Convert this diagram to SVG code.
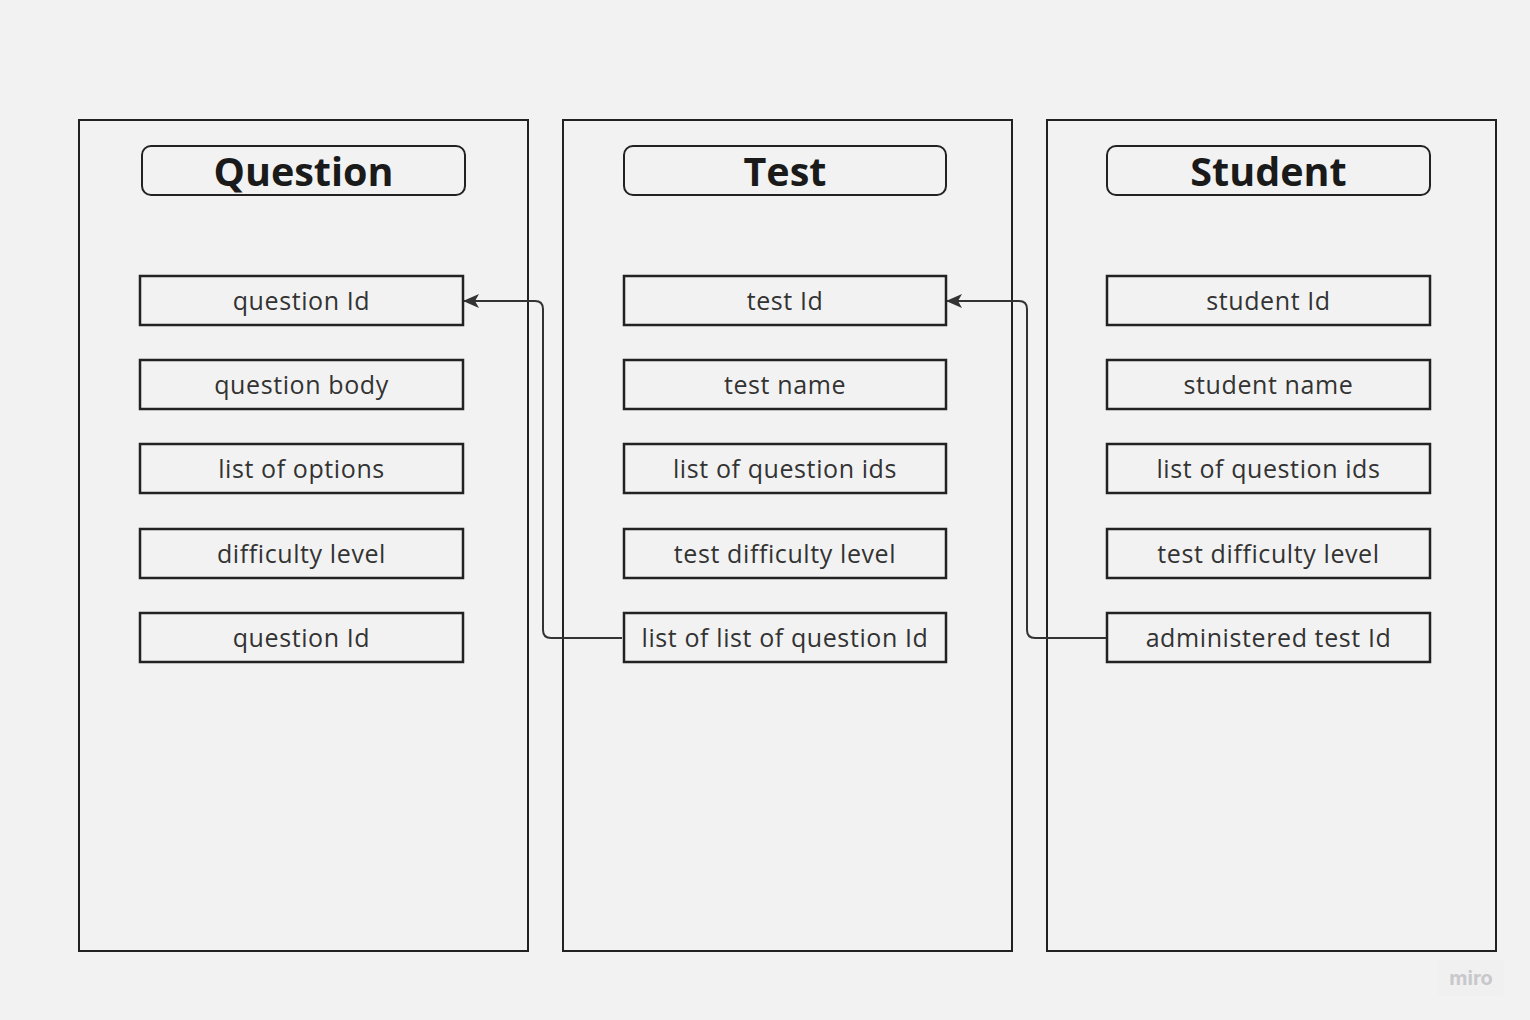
<svg xmlns="http://www.w3.org/2000/svg" width="1530" height="1020" viewBox="0 0 1530 1020">
<style>
.frame{fill:none;stroke:#222;stroke-width:2}
.title{fill:#f2f2f2;stroke:#222;stroke-width:2}
.field{fill:#f2f2f2;stroke:#222;stroke-width:2.5}
.tt{font-family:"Open Sans",sans-serif;font-weight:bold;font-size:39.5px;fill:#1a1a1a;text-anchor:middle}
.ft{font-family:"Open Sans",sans-serif;font-size:25px;letter-spacing:0.6px;fill:#333;text-anchor:middle}
.conn{fill:none;stroke:#333;stroke-width:2}
</style>
<defs>
<marker id="arr" viewBox="0 0 16 14" refX="15" refY="7" markerWidth="16" markerHeight="14" markerUnits="userSpaceOnUse" orient="auto">
<path d="M0,0 L16,7 L0,14 L4,7 Z" fill="#333"/>
</marker>
</defs>
<rect width="1530" height="1020" fill="#f2f2f2"/>
<g id="question">
<rect class="frame" x="79" y="120" width="449" height="831"/>
<rect class="title" x="142" y="146" width="323" height="49" rx="9"/>
<text class="tt" x="303.5" y="186">Question</text>
<rect class="field" x="140" y="276" width="323" height="49"/><text class="ft" x="301.5" y="310">question Id</text>
<rect class="field" x="140" y="360" width="323" height="49"/><text class="ft" x="301.5" y="394">question body</text>
<rect class="field" x="140" y="444" width="323" height="49"/><text class="ft" x="301.5" y="478">list of options</text>
<rect class="field" x="140" y="529" width="323" height="49"/><text class="ft" x="301.5" y="563">difficulty level</text>
<rect class="field" x="140" y="613" width="323" height="49"/><text class="ft" x="301.5" y="647">question Id</text>
</g>
<g id="test">
<rect class="frame" x="563" y="120" width="449" height="831"/>
<rect class="title" x="624" y="146" width="322" height="49" rx="9"/>
<text class="tt" x="785" y="186">Test</text>
<rect class="field" x="624" y="276" width="322" height="49"/><text class="ft" x="785" y="310">test Id</text>
<rect class="field" x="624" y="360" width="322" height="49"/><text class="ft" x="785" y="394">test name</text>
<rect class="field" x="624" y="444" width="322" height="49"/><text class="ft" x="785" y="478">list of question ids</text>
<rect class="field" x="624" y="529" width="322" height="49"/><text class="ft" x="785" y="563">test difficulty level</text>
<rect class="field" x="624" y="613" width="322" height="49"/><text class="ft" x="785" y="647">list of list of question Id</text>
</g>
<g id="student">
<rect class="frame" x="1047" y="120" width="449" height="831"/>
<rect class="title" x="1107" y="146" width="323" height="49" rx="9"/>
<text class="tt" x="1268.5" y="186">Student</text>
<rect class="field" x="1107" y="276" width="323" height="49"/><text class="ft" x="1268.5" y="310">student Id</text>
<rect class="field" x="1107" y="360" width="323" height="49"/><text class="ft" x="1268.5" y="394">student name</text>
<rect class="field" x="1107" y="444" width="323" height="49"/><text class="ft" x="1268.5" y="478">list of question ids</text>
<rect class="field" x="1107" y="529" width="323" height="49"/><text class="ft" x="1268.5" y="563">test difficulty level</text>
<rect class="field" x="1107" y="613" width="323" height="49"/><text class="ft" x="1268.5" y="647">administered test Id</text>
</g>
<g id="connectors">
<path class="conn" d="M622,638 L551,638 Q543,638 543,630 L543,309 Q543,301 535,301 L464,301" marker-end="url(#arr)"/>
<path class="conn" d="M1106,638 L1035,638 Q1027,638 1027,630 L1027,309 Q1027,301 1019,301 L947,301" marker-end="url(#arr)"/>
</g>
<g id="watermark">
<rect x="1438" y="960" width="66" height="36" rx="4" fill="#f0f0f0"/>
<text x="1471" y="985" font-family="Inter, sans-serif" font-weight="bold" font-size="20" fill="#c8c8cc" text-anchor="middle">miro</text>
</g>
</svg>
